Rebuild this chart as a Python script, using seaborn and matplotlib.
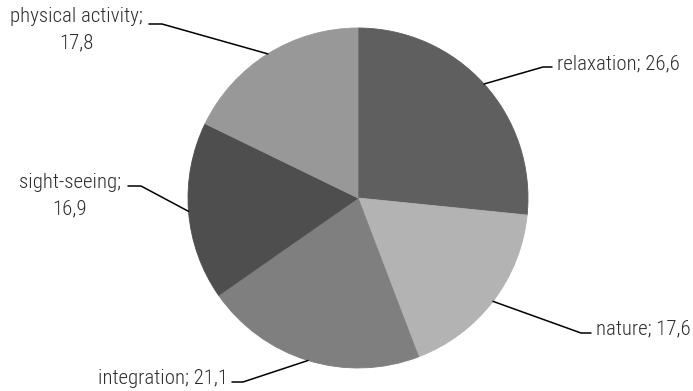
import numpy as np
import matplotlib
matplotlib.use("Agg")
import matplotlib.pyplot as plt
import seaborn as sns
from matplotlib import font_manager

categories = ["relaxation", "nature", "integration", "sight-seeing", "physical activity"]
values = [26.6, 17.6, 21.1, 16.9, 17.8]
value_labels = ["26,6", "17,6", "21,1", "16,9", "17,8"]
colors = ["#5f5f5f", "#b3b3b3", "#7f7f7f", "#4e4e4e", "#989898"]

sns.set_theme(style="white")
names = {f.name for f in font_manager.fontManager.ttflist}
fam = [n for n in ["Roboto Condensed", "Roboto"] if n in names] + ["DejaVu Sans"]
plt.rcParams["font.family"] = fam

W, H = 693, 391
fig = plt.figure(figsize=(W / 100, H / 100), dpi=100)
ax = fig.add_axes([0, 0, 1, 1])

cx, cy, r = 358, H - 198, 170
wedges, _ = ax.pie(values, colors=colors, startangle=90, counterclock=False,
                   center=(cx, cy), radius=r, frame=True,
                   wedgeprops=dict(linewidth=0.6))
for w, c in zip(wedges, colors):
    w.set_edgecolor(c)
ax.set_xlim(0, W)
ax.set_ylim(0, H)
ax.set_aspect("equal")
ax.axis("off")

# label layout: (elbow x, elbow y, end x, text x, text y, ha, two-line)
layout = [
    (543, 67, 552, 557, 64, "left", False),
    (581, 333, 591, 596, 329, "left", False),
    (243, 382, 232, 228, 379, "right", False),
    (141, 186, 128, 70, 183, "center", True),
    (162, 24, 149, 76, 17, "center", True),
]

txt = dict(fontsize=15, color="#2e2e2e", fontweight="light", va="center")
for w, cat, lab, (ex, ey, hx, tx, ty, ha, two) in zip(wedges, categories, value_labels, layout):
    ang = np.deg2rad((w.theta1 + w.theta2) / 2)
    sx, sy = cx + r * np.cos(ang), cy + r * np.sin(ang)
    ax.plot([sx, ex, hx], [sy, H - ey, H - ey], color="black", lw=1.1,
            solid_joinstyle="miter")
    if two:
        ax.text(tx, H - ty, f"{cat};", ha="center", **txt)
        ax.text(tx, H - ty - 26, lab, ha="center", **txt)
    else:
        ax.text(tx, H - ty, f"{cat}; {lab}", ha=ha, **txt)

fig.savefig("out.png", dpi=100, facecolor="white")
